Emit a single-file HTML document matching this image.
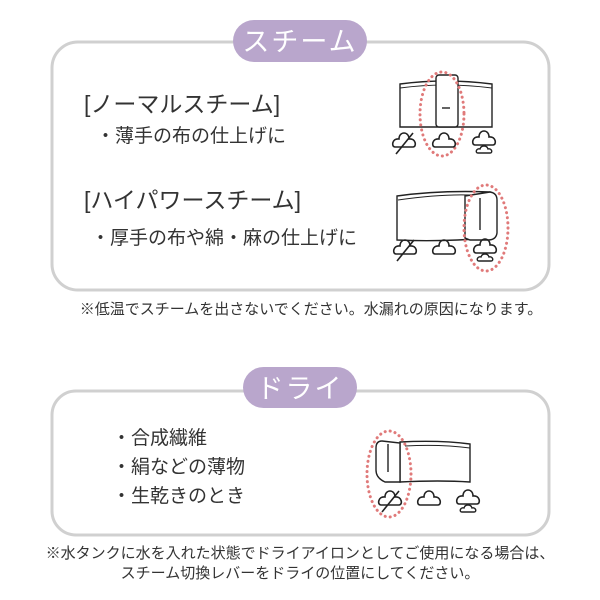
<!DOCTYPE html>
<html><head><meta charset="utf-8"><style>
body{margin:0;background:#fff}
svg{display:block}
text{font-family:"Liberation Sans","Noto Sans CJK JP",sans-serif;fill:#333}
</style></head><body>
<svg width="600" height="600" viewBox="0 0 600 600" xmlns="http://www.w3.org/2000/svg">
<defs>
<g id="cloud"><path d="M-9,6 C-13,6 -12,-3 -5,-2 C-5,-10 5,-10 5,-2 C12,-3 13,6 9,6 Z" fill="none" stroke="#222" stroke-width="1.6"/></g>
<g id="nos"><use href="#cloud"/><line x1="-8" y1="13" x2="9" y2="-8" stroke="#222" stroke-width="1.6"/></g>
<g id="two"><use href="#cloud" transform="translate(0,-4)"/><path d="M-6,10 C-9,10 -8,5 -4,6 C-3,2 3,2 4,6 C8,5 9,10 6,10 Z" fill="none" stroke="#222" stroke-width="1.4"/></g>
</defs>
<rect x="52" y="42" width="497" height="248" rx="26" fill="none" stroke="#d0d0d0" stroke-width="3"/>
<rect x="233" y="20" width="134" height="42" rx="21" fill="#b9a6cc"/>
<text x="300" y="51" text-anchor="middle" font-size="27" style="fill:#fff" letter-spacing="2">スチーム</text>
<text x="84" y="112" font-size="23">[ノーマルスチーム]</text>
<text x="96" y="142" font-size="19">・薄手の布の仕上げに</text>
<text x="84" y="208" font-size="23">[ハイパワースチーム]</text>
<text x="91" y="244" font-size="19">・厚手の布や綿・麻の仕上げに</text>
<text x="311" y="314" text-anchor="middle" font-size="15">※低温でスチームを出さないでください。水漏れの原因になります。</text>
<path d="M400,84 Q445,78 492,84 L492,127 L400,127 Z" fill="#fff" stroke="#222" stroke-width="1.4"/>
<path d="M400,88 Q445,82 492,88" fill="none" stroke="#222" stroke-width="1"/>
<rect x="436" y="75" width="22" height="52" rx="3" fill="#fff" stroke="#222" stroke-width="1.4"/>
<line x1="442" y1="108" x2="450" y2="108" stroke="#222" stroke-width="1.4"/>
<ellipse cx="442" cy="114" rx="22" ry="42" fill="none" stroke="#e07a7a" stroke-width="3" stroke-dasharray="0.1 5" stroke-linecap="round"/>
<use href="#nos" x="404" y="141"/><use href="#cloud" x="444" y="141"/><use href="#two" x="484" y="143"/>
<path d="M397,196 Q440,190 490,192 L490,238 Q440,242 397,240 Z" fill="#fff" stroke="#222" stroke-width="1.4"/>
<path d="M398,200 Q440,194 470,195" fill="none" stroke="#222" stroke-width="1"/>
<path d="M465,196 L490,192 Q497,193 497,200 L497,233 Q496,240 488,240 L470,240 L465,238 Z" fill="#fff" stroke="#222" stroke-width="1.4"/>
<line x1="480" y1="198" x2="480" y2="230" stroke="#222" stroke-width="1.4"/>
<ellipse cx="486" cy="228" rx="22" ry="43" fill="none" stroke="#e07a7a" stroke-width="3" stroke-dasharray="0.1 5" stroke-linecap="round"/>
<use href="#nos" x="405" y="248"/><use href="#cloud" x="444" y="248"/><use href="#two" x="485" y="251"/>
<rect x="52" y="391" width="497" height="144" rx="24" fill="none" stroke="#d0d0d0" stroke-width="3"/>
<rect x="243" y="367" width="114" height="41" rx="20.5" fill="#b9a6cc"/>
<text x="300" y="398" text-anchor="middle" font-size="27" style="fill:#fff" letter-spacing="2">ドライ</text>
<text x="112" y="444" font-size="19">・合成繊維</text>
<text x="112" y="473" font-size="19">・絹などの薄物</text>
<text x="112" y="502" font-size="19">・生乾きのとき</text>
<path d="M400,442 Q440,440 470,444 L470,482 Q440,480 400,482 Z" fill="#fff" stroke="#222" stroke-width="1.4"/>
<path d="M405,446 Q440,444 470,448" fill="none" stroke="#222" stroke-width="1"/>
<path d="M382,441 L400,443 L400,482 L385,482 Q376,478 376,470 L376,448 Q376,441 382,441 Z" fill="#fff" stroke="#222" stroke-width="1.4"/>
<line x1="388" y1="444" x2="388" y2="472" stroke="#222" stroke-width="1.4"/>
<ellipse cx="389" cy="474" rx="22" ry="43" fill="none" stroke="#e07a7a" stroke-width="3" stroke-dasharray="0.1 5" stroke-linecap="round"/>
<use href="#nos" x="390" y="499"/><use href="#cloud" x="429" y="499"/><use href="#two" x="468" y="502"/>
<text x="300" y="558" text-anchor="middle" font-size="15">※水タンクに水を入れた状態でドライアイロンとしてご使用になる場合は、</text>
<text x="300" y="578" text-anchor="middle" font-size="15">スチーム切換レバーをドライの位置にしてください。</text>
</svg>
</body></html>
